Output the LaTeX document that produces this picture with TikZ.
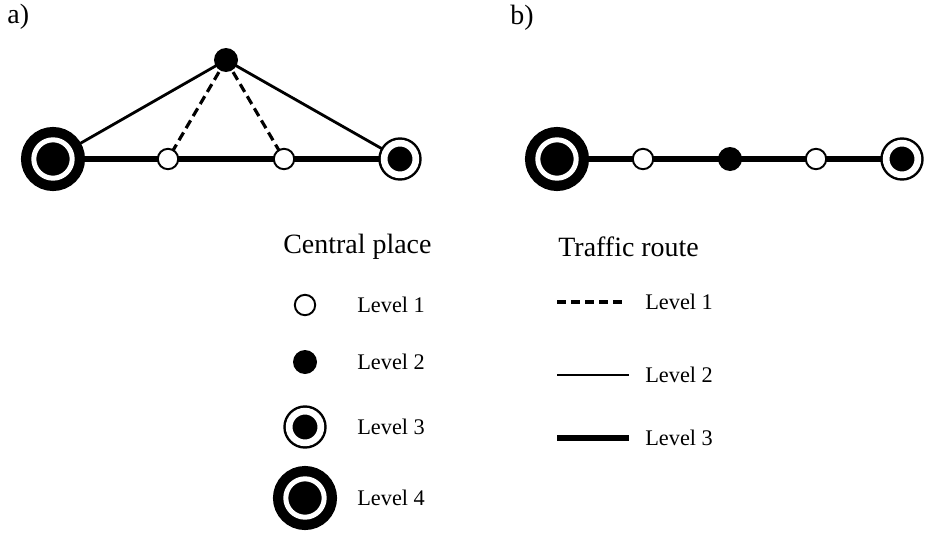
\documentclass[tikz,border=0pt]{standalone}
\usepackage{fontspec}
\setmainfont{Liberation Serif}
\usetikzlibrary{backgrounds}

\tikzset{
  place/.style={circle, inner sep=0pt, outer sep=0pt},
  lvlone/.style={place, draw=black, fill=white, line width=1.1pt, minimum size=11.6pt},
  lvltwo/.style={place, fill=black, minimum size=13.66pt},
  lvlthree/.style={place, draw=black, fill=black, line width=1.42pt,
    double=white, double distance=3.81pt, minimum size=18.04pt},
  lvlfour/.style={place, draw=black, fill=black, line width=5.86pt,
    double=white, double distance=2.85pt, minimum size=21.85pt},
  routeone/.style={line width=1.8pt, dash pattern=on 5.12pt off 2.85pt},
  routetwo/.style={line width=1.6pt},
  routethree/.style={line width=3.7pt},
  lbl/.style={anchor=west, inner sep=0pt, font=\fontsize{12.7}{15}\selectfont},
  head/.style={anchor=west, inner sep=0pt, font=\fontsize{15.9}{19}\selectfont},
}

\begin{document}
\begin{tikzpicture}[x=0.02cm, y=-0.02cm]
    \useasboundingbox (0,0) rectangle (926,534);

    % Panel labels
    \node[head] (tagA) at (7,17) {a)};
    \node[head] (tagB) at (510,18) {b)};

    % a) places
    \node[lvlfour]  (a4) at (53,159) {};
    \node[lvlthree] (a3) at (400,159) {};
    \node[lvltwo]   (a2) at (226,60) {};
    \node[lvlone]   (a1l) at (168,159) {};
    \node[lvlone]   (a1r) at (284,159) {};

    % b) places
    \node[lvlfour]  (b4) at (557,159) {};
    \node[lvlone]   (b1l) at (643,159) {};
    \node[lvltwo]   (b2) at (730,159) {};
    \node[lvlone]   (b1r) at (816,159) {};
    \node[lvlthree] (b3) at (902,159) {};

    % Routes, behind the places
    \begin{scope}[on background layer]
        \draw[routethree] (a4.center) -- (a3.center);
        \draw[routetwo] (a2.center) -- (a4.center);
        \draw[routetwo] (a2.center) -- (a3.center);
        \draw[routeone] (a2.center) -- (a1l.center);
        \draw[routeone] (a2.center) -- (a1r.center);
        \draw[routethree] (b4.center) -- (b3.center);
    \end{scope}

    % Legend: central place
    \node[head] (placeHead) at (283,247) {Central place};
    \node[lvlone]   (keyOne) at (305,305) {};
    \node[lvltwo]   (keyTwo) at (305,362) {};
    \node[lvlthree] (keyThree) at (305,427) {};
    \node[lvlfour]  (keyFour) at (305,498) {};
    \foreach \y/\n in {305/1, 362/2, 427/3, 498/4} {
        \node[lbl] (placeTxt\n) at (357,\y) {Level \n};
    }

    % Legend: traffic route
    \node[head] (routeHead) at (558,247) {Traffic route};
    \foreach \y/\n/\xe in {302/1/622, 375/2/629, 438/3/629} {
        \coordinate (routeS\n) at (557,\y);
        \coordinate (routeE\n) at (\xe,\y);
        \node[lbl] (routeTxt\n) at (645,\y) {Level \n};
    }
    \draw[routeone] (routeS1) -- (routeE1);
    \draw[routetwo] (routeS2) -- (routeE2);
    \draw[routethree] (routeS3) -- (routeE3);
\end{tikzpicture}
\end{document}
